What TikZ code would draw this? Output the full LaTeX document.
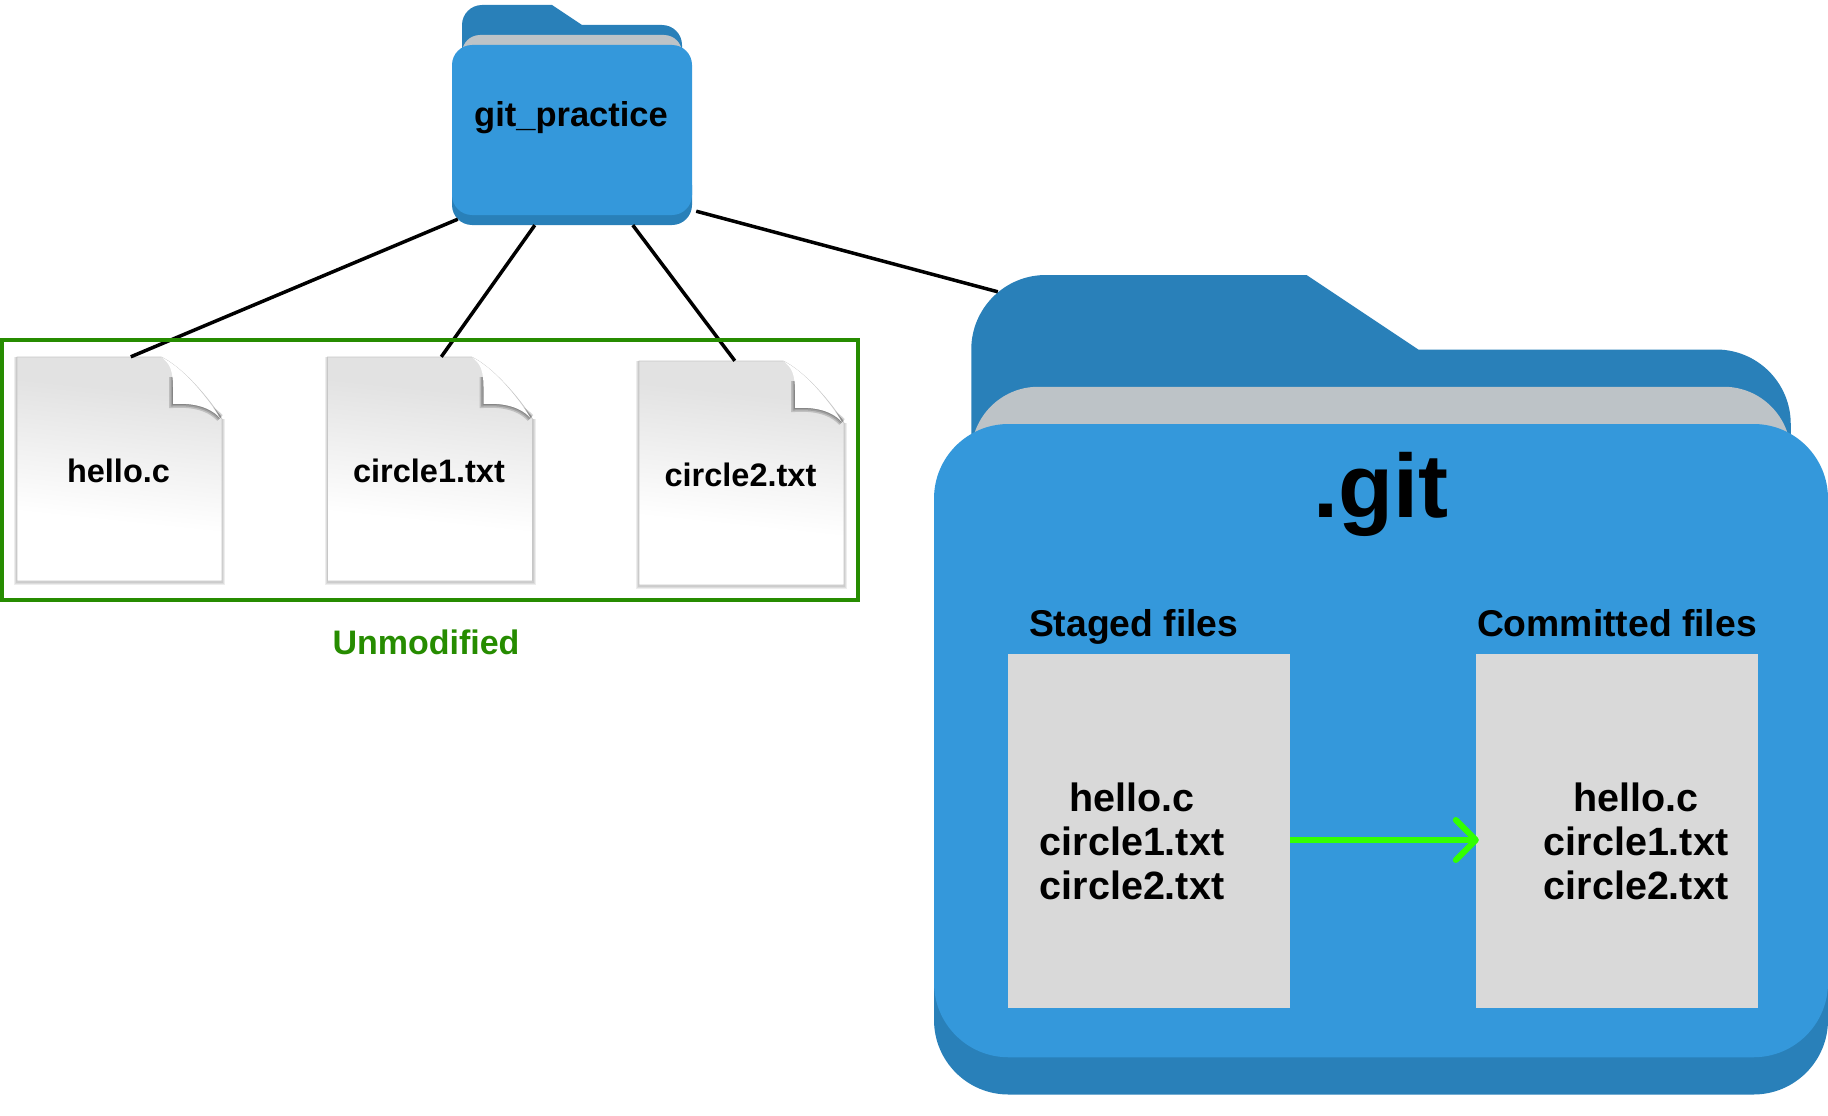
\documentclass[tikz,border=0pt]{standalone}
\usepackage{fontspec}
\usepackage{xcolor}
\setmainfont{Liberation Sans}
\usetikzlibrary{
    arrows.meta,
    calc,
    positioning
}
\definecolor{folderblue}{HTML}{3498DB}
\definecolor{folderdark}{HTML}{2980B9}
\definecolor{foldersheet}{HTML}{BDC3C7}
\definecolor{listgray}{HTML}{D9D9D9}
\definecolor{unmodgreen}{HTML}{268C00}
\definecolor{movegreen}{HTML}{33FF00}
\definecolor{pagetop}{HTML}{E2E2E2}
\pgfdeclareverticalshading{pageshade}{100bp}{color(0bp)=(white); color(38bp)=(white); color(68bp)=(pagetop); color(100bp)=(pagetop)}
\tikzset{
    bigfont/.style={font=\bfseries\fontsize{#1}{#1}\selectfont},
    frame/.style={inner sep=0pt, minimum width=#1},
    pagenode/.style={frame=205pt, minimum height=224pt, text=black, bigfont=32.5},
    listbox/.style={fill=listgray, inner sep=0pt, minimum width=282pt, minimum height=354pt},
    listtext/.style={align=center, font=\bfseries\fontsize{39.5}{44}\selectfont},
    heading/.style={anchor=base west, bigfont=37.3},
    link/.style={draw=black, line width=3.5pt},
    moved/.style={draw=movegreen, line width=6pt, -{Straight Barb[round, length=20pt, width=40pt]}},
    unmodbox/.style={draw=unmodgreen, line width=4pt}
}
\newcommand{\pageoutline}{(0,0) -- (144,0) .. controls (165,-10) and (191,-40) .. (205,-62) -- (205,-224) -- (0,-224) -- cycle}
\newcommand{\flapoutline}{(144,0) .. controls (153,-6) and (156,-14) .. (156,-30) -- (156,-47) .. controls (172,-46) and (191,-48) .. (203,-61) .. controls (188,-37) and (165,-10) .. (144,0) -- cycle}
\newcommand{\drawfolder}{
    \fill[folderdark] (10,-60) -- (10,-20) arc[start angle=180, end angle=90, x radius=20, y radius=20] -- (100,0) -- (130,-20) -- (210,-20) arc[start angle=90, end angle=0, x radius=20, y radius=20] -- (230,-60) -- cycle;
    \fill[foldersheet] (10,-48) arc[start angle=180, end angle=90, x radius=18, y radius=18] -- (212,-30) arc[start angle=90, end angle=0, x radius=18, y radius=18] -- cycle;
    \fill[folderdark] (0,-180) -- (0,-200) arc[start angle=180, end angle=270, x radius=20, y radius=20] -- (220,-220) arc[start angle=270, end angle=360, x radius=20, y radius=20] -- (240,-180) -- cycle;
    \fill[folderblue] (0,-60) arc[start angle=180, end angle=90, x radius=20, y radius=20] -- (220,-40) arc[start angle=90, end angle=0, x radius=20, y radius=20] -- (240,-190) arc[start angle=0, end angle=-90, x radius=20, y radius=20] -- (20,-210) arc[start angle=270, end angle=180, x radius=20, y radius=20] -- cycle;
}

\begin{document}
\begin{tikzpicture}[x=1pt, y=1pt]
    \useasboundingbox (0, 0) rectangle (1828, -1116);
    % file pages
    \foreach \x/\y/\name/\txt in {17/-357/hellopage/hello.c, 327.5/-357/circleonepage/circle1.txt, 639/-361/circletwopage/circle2.txt} {
        \begin{scope}[shift={(\x, \y)}]
            \foreach \w in {6,4,2} {
                \draw[black, opacity=0.07, line width=\w pt] (205,-62) -- (205,-225) -- (0,-225) -- (0,0);
            }
            \shade[shading=pageshade, shading angle=-6] \pageoutline;
            \draw[black!22, line width=0.8pt] \pageoutline;
            \foreach \w in {8,5,2} {
                \draw[black, opacity=0.16, line width=\w pt] (156,-20) -- (156,-47) .. controls (172,-46) and (191,-48) .. (203,-61);
            }
            \fill[white] \flapoutline;
            \node[pagenode] (\name) at (101.5, -114) {\txt};
        \end{scope}
    }
    % folders
    \begin{scope}[shift={(452, -5)}]
        \drawfolder
    \end{scope}
    \begin{scope}[shift={(934, -275)}, scale={3.725}]
        \drawfolder
    \end{scope}
    \node[frame=240pt, minimum height=220pt] (practicefolder) at (572, -115) {};
    \node[frame=894pt, minimum height=819pt] (gitfolder) at (1381, -684.5) {};
    \node[anchor=base, bigfont=34.5] (practicename) at (571, -126) {git\_practice};
    \node[anchor=base, bigfont=90] (gitname) at (1381, -517.5) {.git};
    % staged and committed
    \node[listbox] (stagedbox) at (1149, -831) {};
    \node[listbox] (committedbox) at (1617, -831) {};
    \node[heading] (stagedname) at (1025.5, -636) {Staged files};
    \node[heading] (committedname) at (1473.5, -636) {Committed files};
    \node[listtext] (stagedlist) at (1132, -841) {hello.c\\circle1.txt\\circle2.txt};
    \node[listtext] (committedlist) at (1636, -841) {hello.c\\circle1.txt\\circle2.txt};
    \draw[moved] ([yshift=-9pt]stagedbox.east) -- ([xshift=3pt, yshift=-9pt]committedbox.west);
    % links
    \draw[link] ([xshift=6pt, yshift=6pt]practicefolder.south west) -- ([xshift=115pt, yshift=2pt]hellopage.north west);
    \draw[link] ([xshift=83pt]practicefolder.south west) -- ([xshift=115pt, yshift=2pt]circleonepage.north west);
    \draw[link] ([xshift=181pt]practicefolder.south west) -- ([xshift=97pt, yshift=2pt]circletwopage.north west);
    \draw[link] ([xshift=4pt, yshift=14pt]practicefolder.south east) -- ([xshift=64pt, yshift=-17pt]gitfolder.north west);
    % unmodified group
    \draw[unmodbox] (2, -340) rectangle (858, -600);
    \node[anchor=base, bigfont=34, text=unmodgreen] (unmodname) at (426, -654) {Unmodified};
\end{tikzpicture}
\end{document}
